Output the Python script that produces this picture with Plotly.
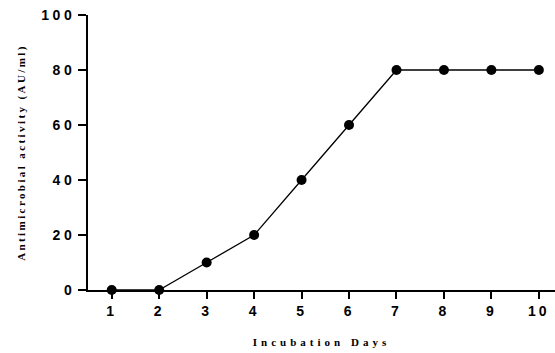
import plotly.graph_objects as go

days = [1, 2, 3, 4, 5, 6, 7, 8, 9, 10]
activity = [0, 0, 10, 20, 40, 60, 80, 80, 80, 80]
x_tick_vals = [1, 2, 3, 4, 5, 6, 7, 8, 9, 10]
x_tick_labels = ["1", "2", "3", "4", "5", "6", "7", "8", "9", "10"]
y_tick_vals = [0, 20, 40, 60, 80, 100]
y_tick_labels = ["0", "20", "40", "60", "80", "100"]
x_title = "Incubation Days"
y_title = "Antimicrobial activity (AU/ml)"


def spaced(t, px):
    return '<span style="letter-spacing:%spx">%s</span>' % (px, t)


fig = go.Figure()
fig.add_trace(go.Scatter(
    x=days, y=activity, mode="lines+markers",
    line=dict(color="black", width=1.3),
    marker=dict(color="black", size=10, symbol="circle"),
    cliponaxis=False, showlegend=False,
))

tick_font = dict(family="Liberation Sans", size=14, color="black", weight="bold")
title_font = dict(family="Liberation Serif", size=11, color="black", weight="bold")

fig.update_layout(
    width=555, height=353,
    margin=dict(l=88, r=0, t=15, b=63),
    paper_bgcolor="white", plot_bgcolor="white",
    xaxis=dict(
        range=[0.5, 10.34], showgrid=False, zeroline=False,
        showline=True, linecolor="black", linewidth=2,
        ticks="outside", ticklen=7, tickwidth=2, tickcolor="black",
        tickvals=x_tick_vals, ticktext=[spaced(t, 3) for t in x_tick_labels],
        tickfont=tick_font,
        title=dict(text=spaced(x_title, 4), font=title_font, standoff=21),
    ),
    yaxis=dict(
        range=[0, 100], showgrid=False, zeroline=False,
        showline=True, linecolor="black", linewidth=2,
        ticks="outside", ticklen=8, tickwidth=2, tickcolor="black",
        tickvals=y_tick_vals, ticktext=[spaced(t, 3.5) for t in y_tick_labels],
        tickfont=tick_font,
        title=dict(text=spaced(y_title, 2.4), font=title_font, standoff=13),
    ),
)

fig.write_html("out.html")
